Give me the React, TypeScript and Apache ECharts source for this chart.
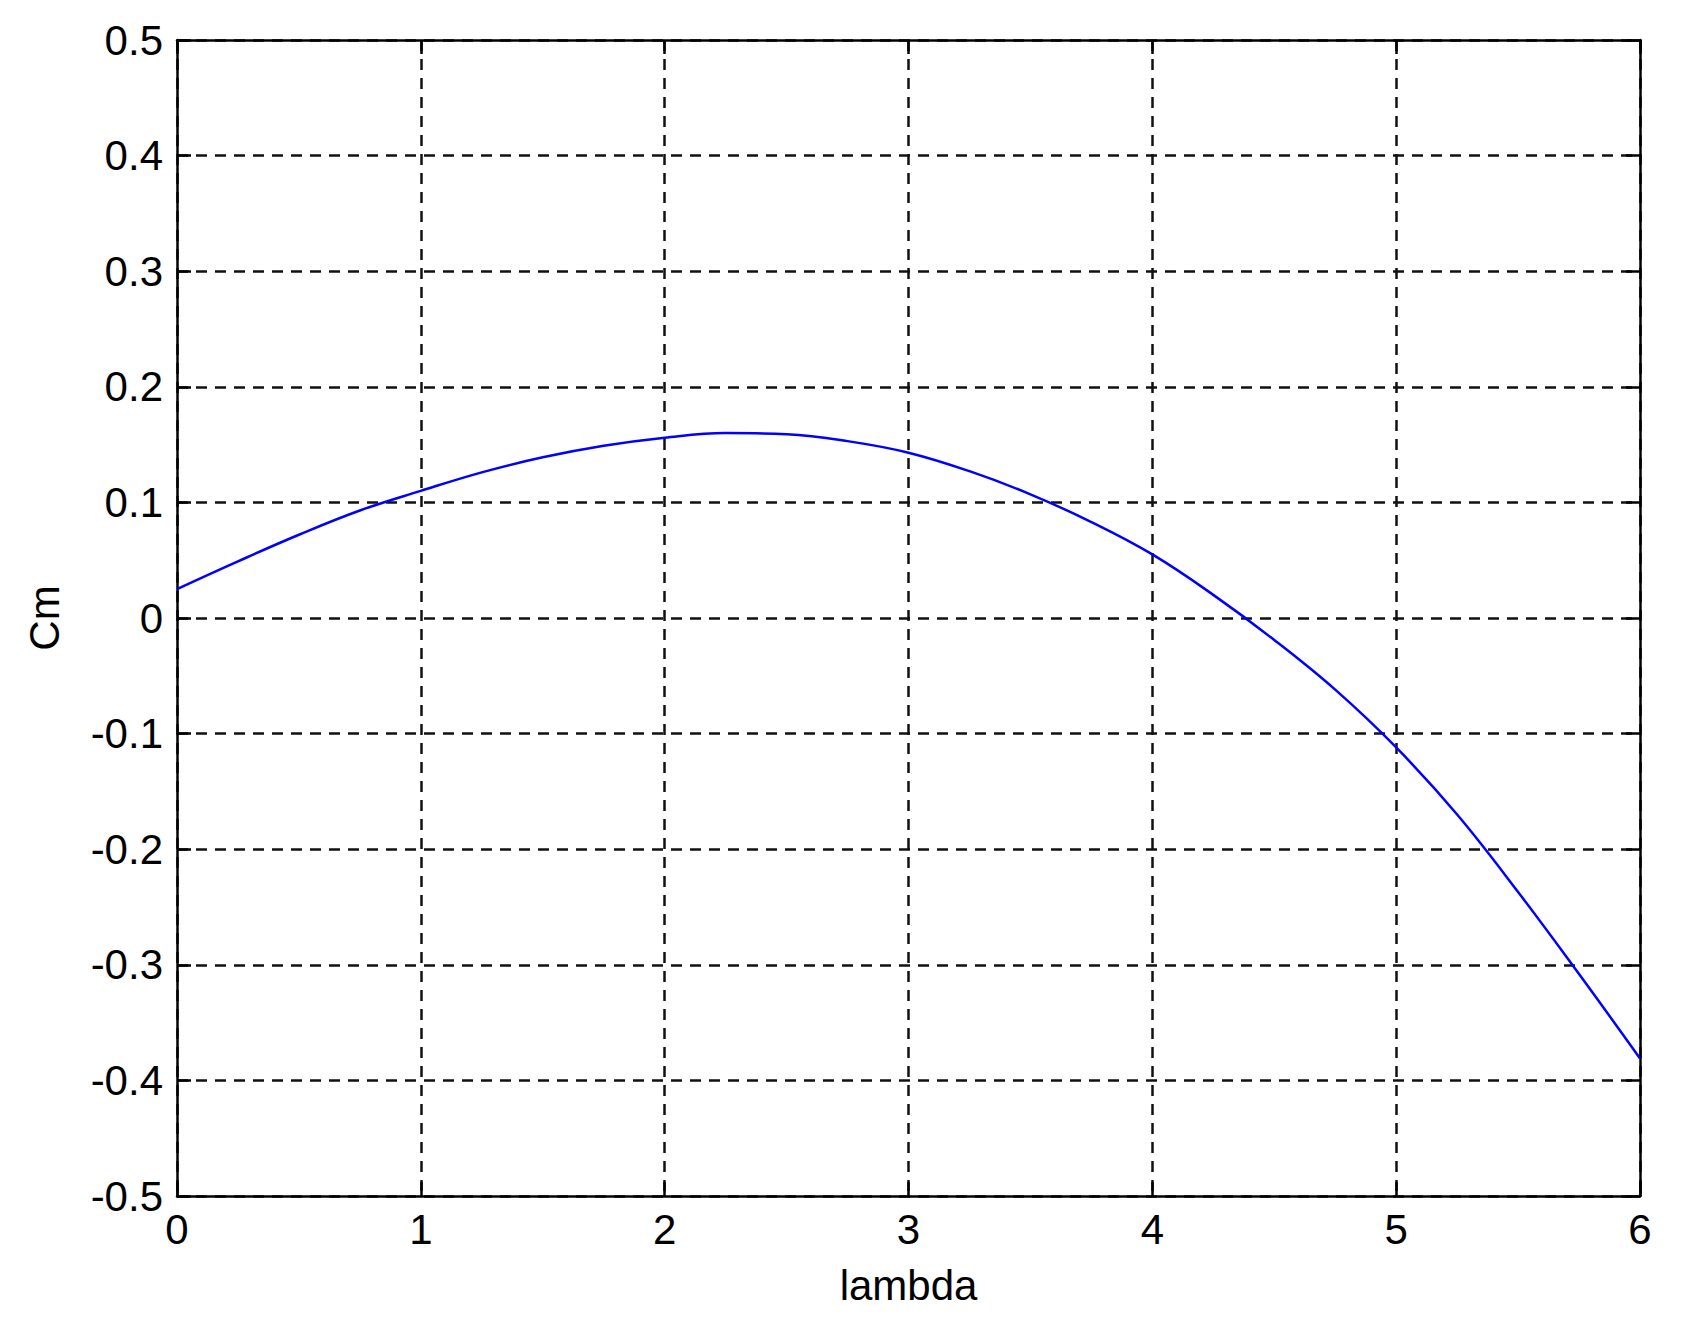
import React, { useEffect, useRef } from "react";
import * as echarts from "echarts";

const lambdaValues = [0, 0.25, 0.5, 0.75, 1.0, 1.25, 1.5, 1.75, 2.0, 2.25, 2.5, 2.75, 3.0, 3.25, 3.5, 3.75, 4.0, 4.25, 4.5, 4.75, 5.0, 5.25, 5.5, 5.75, 6.0];
const cmValues = [0.025, 0.049, 0.072, 0.093, 0.110, 0.126, 0.139, 0.149, 0.156, 0.160, 0.159, 0.153, 0.143, 0.127, 0.107, 0.083, 0.055, 0.020, -0.019, -0.062, -0.112, -0.170, -0.237, -0.308, -0.381];

const xTicks = [0, 1, 2, 3, 4, 5, 6];
const yTicks = [-0.5, -0.4, -0.3, -0.2, -0.1, 0, 0.1, 0.2, 0.3, 0.4, 0.5];

const xName = "lambda";
const yName = "Cm";

const FONT = "'Liberation Sans', Arial, Helvetica, sans-serif";

export default function App() {
  const ref = useRef<HTMLDivElement>(null);
  useEffect(() => {
    document.body.style.margin = "0";
    const chart = echarts.init(ref.current!, null, { renderer: "svg" });
    const labelStyle = { color: "#000", fontSize: 42, fontFamily: FONT };
    const axisLine = { show: true, onZero: false, lineStyle: { color: "#000", width: 2.5 } };
    const tick = { show: true, inside: true, length: 14, lineStyle: { color: "#000", width: 2.5 } };
    const split = { show: true, lineStyle: { color: "#111", width: 2.5, type: [11, 8] as any } };
    const fmt = (v: number) => String(Math.round(v * 10) / 10);
    chart.setOption({
      animation: false,
      backgroundColor: "#fff",
      grid: { left: 177, right: 44, top: 40, bottom: 132, containLabel: false },
      xAxis: [
        {
          type: "value",
          min: xTicks[0],
          max: xTicks[xTicks.length - 1],
          interval: xTicks[1] - xTicks[0],
          name: xName,
          nameLocation: "middle",
          nameGap: 68,
          nameTextStyle: { ...labelStyle },
          axisLine,
          axisTick: tick,
          axisLabel: { ...labelStyle, margin: 12, formatter: fmt },
          splitLine: split,
        },
        {
          type: "value",
          position: "top",
          min: xTicks[0],
          max: xTicks[xTicks.length - 1],
          interval: xTicks[1] - xTicks[0],
          axisLine,
          axisTick: tick,
          axisLabel: { show: false },
          splitLine: { show: false },
        },
      ],
      yAxis: [
        {
          type: "value",
          min: yTicks[0],
          max: yTicks[yTicks.length - 1],
          interval: 0.1,
          name: yName,
          nameLocation: "middle",
          nameGap: 112,
          nameTextStyle: { ...labelStyle },
          axisLine,
          axisTick: tick,
          axisLabel: { ...labelStyle, margin: 14, formatter: fmt },
          splitLine: split,
        },
        {
          type: "value",
          position: "right",
          min: yTicks[0],
          max: yTicks[yTicks.length - 1],
          interval: 0.1,
          axisLine,
          axisTick: tick,
          axisLabel: { show: false },
          splitLine: { show: false },
        },
      ],
      series: [
        {
          type: "line",
          data: lambdaValues.map((x, i) => [x, cmValues[i]]),
          smooth: 0.4,
          symbol: "none",
          lineStyle: { color: "#0000ff", width: 2.5 },
          xAxisIndex: 0,
          yAxisIndex: 0,
        },
      ],
    });
    return () => chart.dispose();
  }, []);
  return (
    <div
      ref={ref}
      style={{ position: "absolute", left: 0, top: 0, width: 1684, height: 1328 }}
    />
  );
}
